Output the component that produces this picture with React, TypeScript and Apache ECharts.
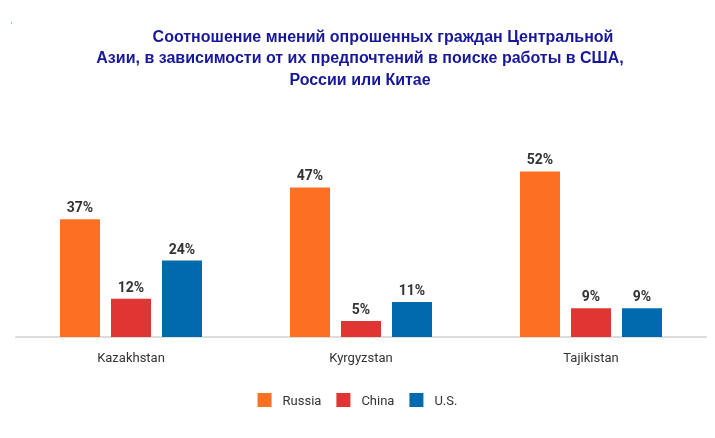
import { useEffect, useRef } from "react";
import * as echarts from "echarts";

const countries = ["Kazakhstan", "Kyrgyzstan", "Tajikistan"];
const russia = [37, 47, 52];
const china = [12, 5, 9];
const us = [24, 11, 9];

const titleLines = [
  "Соотношение мнений опрошенных граждан Центральной",
  "Азии, в зависимости от их предпочтений в поиске работы в США,",
  "России или Китае",
];

const titleFont = "bold 16px 'Liberation Sans', Arial, sans-serif";
const titleColor = "#17179a";

export default function App() {
  const chartRef = useRef(null);

  useEffect(() => {
    const chart = echarts.init(chartRef.current, null, { renderer: "svg" });

    const label = {
      show: true,
      position: "top",
      distance: 5,
      formatter: "{c}%",
      color: "#333",
      fontWeight: "bold",
      fontSize: 14,
      fontFamily: "Roboto, sans-serif",
    };

    const titleText = (text: string, x: number, y: number) => ({
      type: "text",
      x,
      y,
      style: {
        text,
        textAlign: "center",
        textVerticalAlign: "middle",
        font: titleFont,
        fill: titleColor,
      },
    });

    const options = {
      animation: false,
      textStyle: { fontFamily: "Roboto, sans-serif" },
      graphic: [
        titleText(titleLines[0], 383, 36),
        titleText(titleLines[1], 360, 57.5),
        titleText(titleLines[2], 360, 79),
        {
          type: "rect",
          shape: { x: 11, y: 22, width: 1, height: 2 },
          style: { fill: "#9ab8d8" },
        },
      ],
      legend: {
        bottom: 26,
        left: "center",
        itemWidth: 14,
        itemHeight: 14,
        itemGap: 15,
        icon: "rect",
        textStyle: { color: "#333", fontSize: 13, padding: [0, 0, 0, 6] },
        data: ["Russia", "China", "U.S."],
      },
      grid: { left: 16, right: 9, top: 146, bottom: 101 },
      xAxis: {
        type: "category",
        data: countries,
        axisLine: { lineStyle: { color: "#dcdcdc", width: 2 } },
        axisTick: { show: false },
        axisLabel: { color: "#333", fontSize: 13, margin: 14 },
      },
      yAxis: {
        type: "value",
        min: 0,
        max: 60,
        show: false,
        splitLine: { show: false },
      },
      series: [
        {
          name: "Russia",
          type: "bar",
          data: russia,
          barWidth: 40,
          barGap: "27.5%",
          itemStyle: { color: "#fd7024" },
          label,
        },
        {
          name: "China",
          type: "bar",
          data: china,
          barWidth: 40,
          barGap: "27.5%",
          itemStyle: { color: "#e03633" },
          label,
        },
        {
          name: "U.S.",
          type: "bar",
          data: us,
          barWidth: 40,
          barGap: "27.5%",
          itemStyle: { color: "#006aae" },
          label,
        },
      ],
    };

    chart.setOption(options);

    return () => {
      chart.dispose();
    };
  }, []);

  return (
    <div
      ref={chartRef}
      style={{ position: "fixed", left: 0, top: 0, width: "715px", height: "438px" }}
    />
  );
}
